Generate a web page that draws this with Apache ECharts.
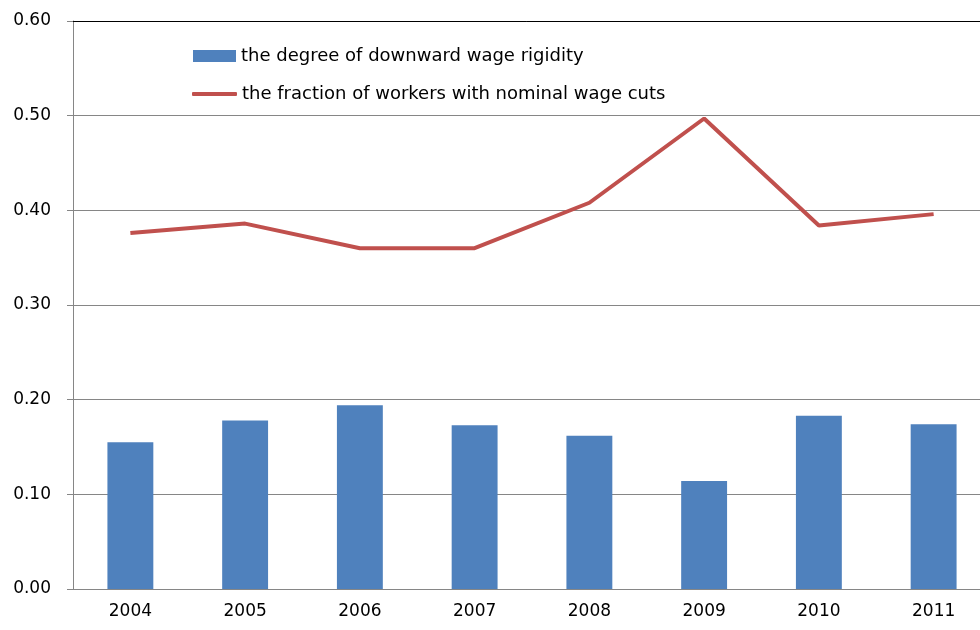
<!DOCTYPE html>
<html>
<head>
<meta charset="utf-8">
<script src="https://cdn.jsdelivr.net/npm/echarts@6/dist/echarts.min.js"></script>
<style>
  html, body { margin: 0; padding: 0; background: #fff; }
  #chart { width: 980px; height: 630px; }
</style>
</head>
<body>
<div id="chart"></div>
<script>
// Years on the horizontal axis
const years = ['2004', '2005', '2006', '2007', '2008', '2009', '2010', '2011'];
// Degree of downward wage rigidity (bars)
const rigidity = [0.155, 0.178, 0.194, 0.173, 0.162, 0.114, 0.183, 0.174];
// Fraction of workers with nominal wage cuts (line)
const wageCuts = [0.376, 0.386, 0.360, 0.360, 0.408, 0.497, 0.384, 0.396];

const seriesNames = [
  'the degree of downward wage rigidity',
  'the fraction of workers with nominal wage cuts'
];

const FONT = '"DejaVu Sans", sans-serif';
const legendText = { fontSize: 18, color: '#000', fontFamily: FONT };
const chart = echarts.init(document.getElementById('chart'));

chart.setOption({
  animation: false,
  textStyle: { fontFamily: FONT },
  // plot runs past the right edge of the canvas
  grid: { left: 73, width: 918, top: 21, height: 568, outerBoundsMode: 'none' },
  legend: [
    {
      // bar entry: solid block
      left: 188,
      top: 42,
      itemWidth: 43,
      itemHeight: 12,
      textStyle: legendText,
      data: [{ name: seriesNames[0], icon: 'rect' }]
    },
    {
      // line entry: thick stroke
      left: 187,
      top: 80,
      itemWidth: 45,
      itemHeight: 4,
      textStyle: legendText,
      data: [{ name: seriesNames[1], icon: 'roundRect' }]
    }
  ],
  xAxis: [
    {
      type: 'category',
      data: years,
      axisLine: { lineStyle: { color: '#868686', width: 1 } },
      axisTick: { length: 6, lineStyle: { color: '#868686' } },
      axisLabel: { color: '#000', fontSize: 17, margin: 14 }
    },
    {
      // plain frame line along the top of the plot
      type: 'category',
      data: years,
      position: 'top',
      axisLine: { lineStyle: { color: '#000', width: 1 } },
      axisTick: { show: false },
      axisLabel: { show: false }
    }
  ],
  yAxis: {
    type: 'value',
    min: 0,
    max: 0.6,
    interval: 0.1,
    axisLine: { show: true, lineStyle: { color: '#868686' } },
    axisTick: { show: true, length: 6, lineStyle: { color: '#868686' } },
    axisLabel: {
      color: '#000',
      fontSize: 17,
      margin: 22,
      formatter: v => v.toFixed(2)
    },
    splitLine: { lineStyle: { color: '#868686', width: 1 } }
  },
  series: [
    {
      name: seriesNames[0],
      type: 'bar',
      data: rigidity,
      barWidth: '40%',
      itemStyle: { color: '#4F81BD' }
    },
    {
      name: seriesNames[1],
      type: 'line',
      data: wageCuts,
      symbol: 'none',
      lineStyle: { color: '#C0504D', width: 4 },
      itemStyle: { color: '#C0504D' }
    }
  ]
});
</script>
</body>
</html>
